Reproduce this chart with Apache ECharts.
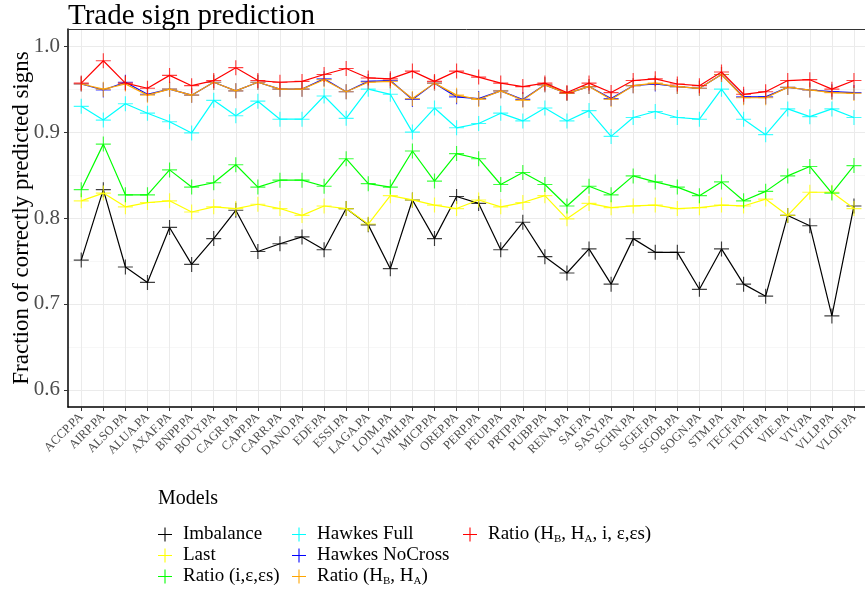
<!DOCTYPE html>
<html><head><meta charset="utf-8">
<script src="https://cdn.jsdelivr.net/npm/echarts@6/dist/echarts.min.js"></script>
<style>html,body{margin:0;padding:0;background:#fff}#c{width:865px;height:592px}</style>
</head><body><div id="c"></div>
<script>
const categories = ['ACCP.PA','AIRP.PA','ALSO.PA','ALUA.PA','AXAF.PA','BNPP.PA','BOUY.PA','CAGR.PA','CAPP.PA','CARR.PA','DANO.PA','EDF.PA','ESSI.PA','LAGA.PA','LOIM.PA','LVMH.PA','MICP.PA','OREP.PA','PERP.PA','PEUP.PA','PRTP.PA','PUBP.PA','RENA.PA','SAF.PA','SASY.PA','SCHN.PA','SGEF.PA','SGOB.PA','SOGN.PA','STM.PA','TECF.PA','TOTF.PA','VIE.PA','VIV.PA','VLLP.PA','VLOF.PA'];

const imbalance = [0.751,0.833,0.743,0.725,0.789,0.746,0.776,0.809,0.761,0.770,0.778,0.763,0.811,0.792,0.741,0.821,0.776,0.825,0.817,0.763,0.795,0.755,0.736,0.764,0.723,0.776,0.760,0.760,0.717,0.764,0.723,0.709,0.803,0.791,0.686,0.814];
const last = [0.820,0.829,0.813,0.818,0.820,0.807,0.813,0.811,0.816,0.811,0.803,0.814,0.811,0.793,0.826,0.821,0.815,0.811,0.821,0.813,0.818,0.826,0.799,0.817,0.812,0.814,0.815,0.811,0.812,0.815,0.814,0.822,0.803,0.830,0.830,0.811];
const ratioIES = [0.833,0.886,0.827,0.827,0.856,0.836,0.841,0.862,0.836,0.844,0.844,0.837,0.869,0.840,0.836,0.878,0.843,0.875,0.869,0.839,0.853,0.839,0.814,0.837,0.827,0.849,0.842,0.836,0.826,0.842,0.820,0.831,0.849,0.860,0.829,0.861];
const hawkesFull = [0.930,0.914,0.933,0.922,0.912,0.899,0.937,0.919,0.936,0.915,0.915,0.942,0.916,0.950,0.944,0.900,0.928,0.905,0.910,0.922,0.913,0.928,0.913,0.925,0.895,0.917,0.924,0.917,0.915,0.950,0.915,0.897,0.927,0.918,0.927,0.917];
const hawkesNoCross = [0.956,0.949,0.958,0.944,0.950,0.943,0.958,0.948,0.958,0.950,0.950,0.962,0.947,0.959,0.960,0.938,0.957,0.941,0.939,0.948,0.938,0.955,0.945,0.953,0.939,0.954,0.956,0.953,0.951,0.967,0.941,0.941,0.952,0.949,0.947,0.946];
const ratioHBHA = [0.956,0.950,0.956,0.943,0.950,0.943,0.958,0.948,0.958,0.950,0.950,0.961,0.947,0.958,0.959,0.939,0.957,0.943,0.938,0.948,0.937,0.955,0.945,0.953,0.938,0.954,0.957,0.953,0.951,0.967,0.940,0.940,0.952,0.949,0.946,0.945];
const ratioAll = [0.957,0.983,0.957,0.951,0.966,0.954,0.960,0.975,0.960,0.958,0.959,0.967,0.974,0.963,0.962,0.971,0.959,0.971,0.964,0.957,0.953,0.957,0.946,0.957,0.946,0.960,0.962,0.956,0.954,0.970,0.944,0.947,0.960,0.961,0.950,0.960];

const seriesNames = ['Imbalance','Last','Ratio (i,ε,εs)','Hawkes Full','Hawkes NoCross','Ratio (H_B, H_A)','Ratio (H_B, H_A, i, ε,εs)'];
const seriesValues = [imbalance,last,ratioIES,hawkesFull,hawkesNoCross,ratioHBHA,ratioAll];
const seriesColors = ['#000000','#FFFF00','#00FF00','#00FFFF','#0000FF','#FFA500','#FF0000'];
const yTicks = [0.6,0.7,0.8,0.9,1.0];
const yMinor = [0.65,0.75,0.85,0.95];

const FONT = 'Liberation Serif';
const plus = 'path://M6,0H7V6H13V7H7V13H6V7H0V6H6Z';
const idx = categories.map((_, i) => i);

const series = seriesNames.map((n, k) => ({
  name: n, type: 'line', xAxisIndex: 0, yAxisIndex: 0,
  data: seriesValues[k].map((v, i) => [i, v]),
  symbol: plus, symbolSize: 15,
  itemStyle: {color: seriesColors[k], opacity: 0.75},
  lineStyle: {color: seriesColors[k], width: 1.2},
  emphasis: {disabled: true}, animation: false, z: 2 + k
}));

const fmt = n => '{gap|}' + n.replace(/_([A-Z])/g, '{sub|$1}');
const legendText = {fontFamily: FONT, fontSize: 19, color: '#000',
  rich: {gap: {width: 6}, sub: {fontFamily: FONT, fontSize: 11, color: '#000', padding: [9, 0, 0, 0]}}};
const cols = [[0,1,2],[3,4,5],[6]];
const lefts = [158, 292, 463];
const legends = cols.map((c, j) => ({
  orient: 'vertical', left: lefts[j], top: 525, itemGap: 2, padding: 0,
  itemWidth: 14, itemHeight: 14, icon: plus, selectedMode: false,
  data: c.map(i => ({name: seriesNames[i], icon: plus, itemStyle: {color: seriesColors[i], opacity: 1}})),
  formatter: fmt, textStyle: legendText
}));

const chart = echarts.init(document.getElementById('c'));
chart.setOption({
  animation: false,
  title: [
    {text: 'Trade sign prediction', left: 68, top: 2, padding: 0, textStyle: {fontFamily: FONT, fontSize: 29, fontWeight: 'normal', color: '#000'}},
    {text: 'Models', left: 158, top: 489, padding: 0, textStyle: {fontFamily: FONT, fontSize: 20, fontWeight: 'normal', color: '#000'}}
  ],
  legend: legends,
  grid: {left: 68, right: 0, top: 29, bottom: 185, outerBoundsMode: 'none', containLabel: false},
  xAxis: [{
    type: 'value', min: -0.6, max: 35.5,
    axisLine: {show: true, onZero: false, lineStyle: {color: '#000', width: 1.5}},
    axisTick: {show: true, length: 4, customValues: idx, lineStyle: {color: '#333'}},
    axisLabel: {customValues: idx, rotate: 45, formatter: v => categories[Math.round(v)] || '', fontFamily: FONT, fontSize: 12.5, color: '#4d4d4d', margin: 8},
    splitLine: {show: true, lineStyle: {color: '#ebebeb', width: 1}}
  }, {
    type: 'value', min: -0.6, max: 35.5, position: 'top',
    axisLine: {show: true, onZero: false, lineStyle: {color: '#333', width: 1}},
    axisTick: {show: false}, axisLabel: {show: false}, splitLine: {show: false}
  }],
  yAxis: [{
    type: 'value', min: 0.58, max: 1.02,
    axisLine: {show: true, onZero: false, lineStyle: {color: '#000', width: 1.5}},
    axisTick: {show: true, length: 4, customValues: yTicks, lineStyle: {color: '#333'}},
    axisLabel: {customValues: yTicks, formatter: v => v.toFixed(1), fontFamily: FONT, fontSize: 21, color: '#4d4d4d', margin: 8},
    splitLine: {show: true, lineStyle: {color: '#ebebeb', width: 1}}
  }, {
    type: 'value', min: 0.58, max: 1.02, position: 'left',
    name: 'Fraction of correctly predicted signs', nameLocation: 'middle', nameGap: 35,
    nameTextStyle: {fontFamily: FONT, fontSize: 23, color: '#000'},
    axisLine: {show: false}, axisLabel: {show: false},
    axisTick: {show: false, customValues: yMinor},
    splitLine: {show: true, lineStyle: {color: '#f5f5f5', width: 0.8}}
  }],
  series: series
});
</script></body></html>
